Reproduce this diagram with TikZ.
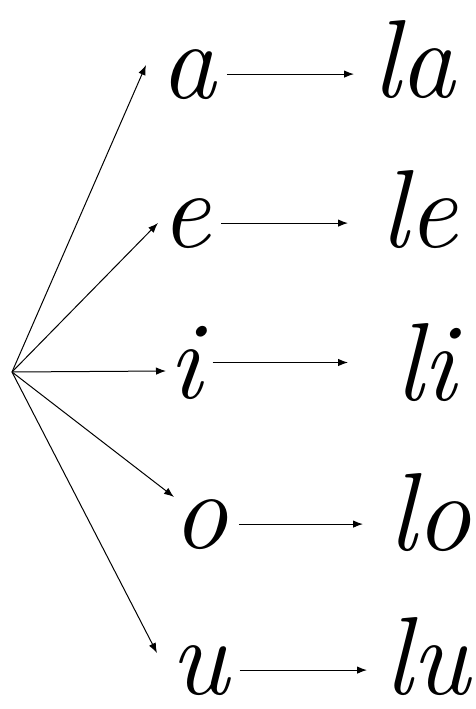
\documentclass[tikz,border=0pt]{standalone}
\usepackage{tikz}
\usetikzlibrary{arrows.meta}

\begin{document}
\begin{tikzpicture}[x=1pt,y=-1pt]
		\tikzset{letter/.style={inner sep=0pt,anchor=base west,font=\fontsize{111}{111}\selectfont\itshape}};
		\tikzset{fanarrow/.style={-{Latex[length=10pt,width=7.5pt]},line width=1pt}};
		\tikzset{syllarrow/.style={fanarrow,shorten <=11pt,shorten >=#1}};
		\useasboundingbox (0,0) rectangle (476,709);
		\coordinate (src) at (12,372);
		\node[letter] (a) at (160,98) {a};
		\node[letter] (e) at (160,247) {e};
		\node[letter] (i) at (168,398) {i};
		\node[letter] (o) at (172,548) {o};
		\node[letter] (u) at (170,694) {u};
		\node[letter] (la) at (372,97) {la};
		\node[letter] (le) at (380,247) {le};
		\node[letter] (li) at (395,400) {li};
		\node[letter] (lo) at (388,550) {lo};
		\node[letter] (lu) at (384,694) {lu};
		\coordinate (a-tip) at (146,65);
		\coordinate (e-tip) at (158,223);
		\coordinate (i-tip) at (166,371);
		\coordinate (o-tip) at (174,497);
		\coordinate (u-tip) at (157,653);
		\foreach \v in {a,e,i,o,u}
			\draw[fanarrow] (src) -- (\v-tip);
		\draw[syllarrow=18pt] (a.east) -- (a.east -| la.west);
		\draw[syllarrow=32pt] (e.east) -- (e.east -| le.west);
		\draw[syllarrow=47pt] (i.east) -- (i.east -| li.west);
		\draw[syllarrow=25pt] (o.east) -- (o.east -| lo.west);
		\draw[syllarrow=17pt] (u.east) -- (u.east -| lu.west);
	\end{tikzpicture}
\end{document}
